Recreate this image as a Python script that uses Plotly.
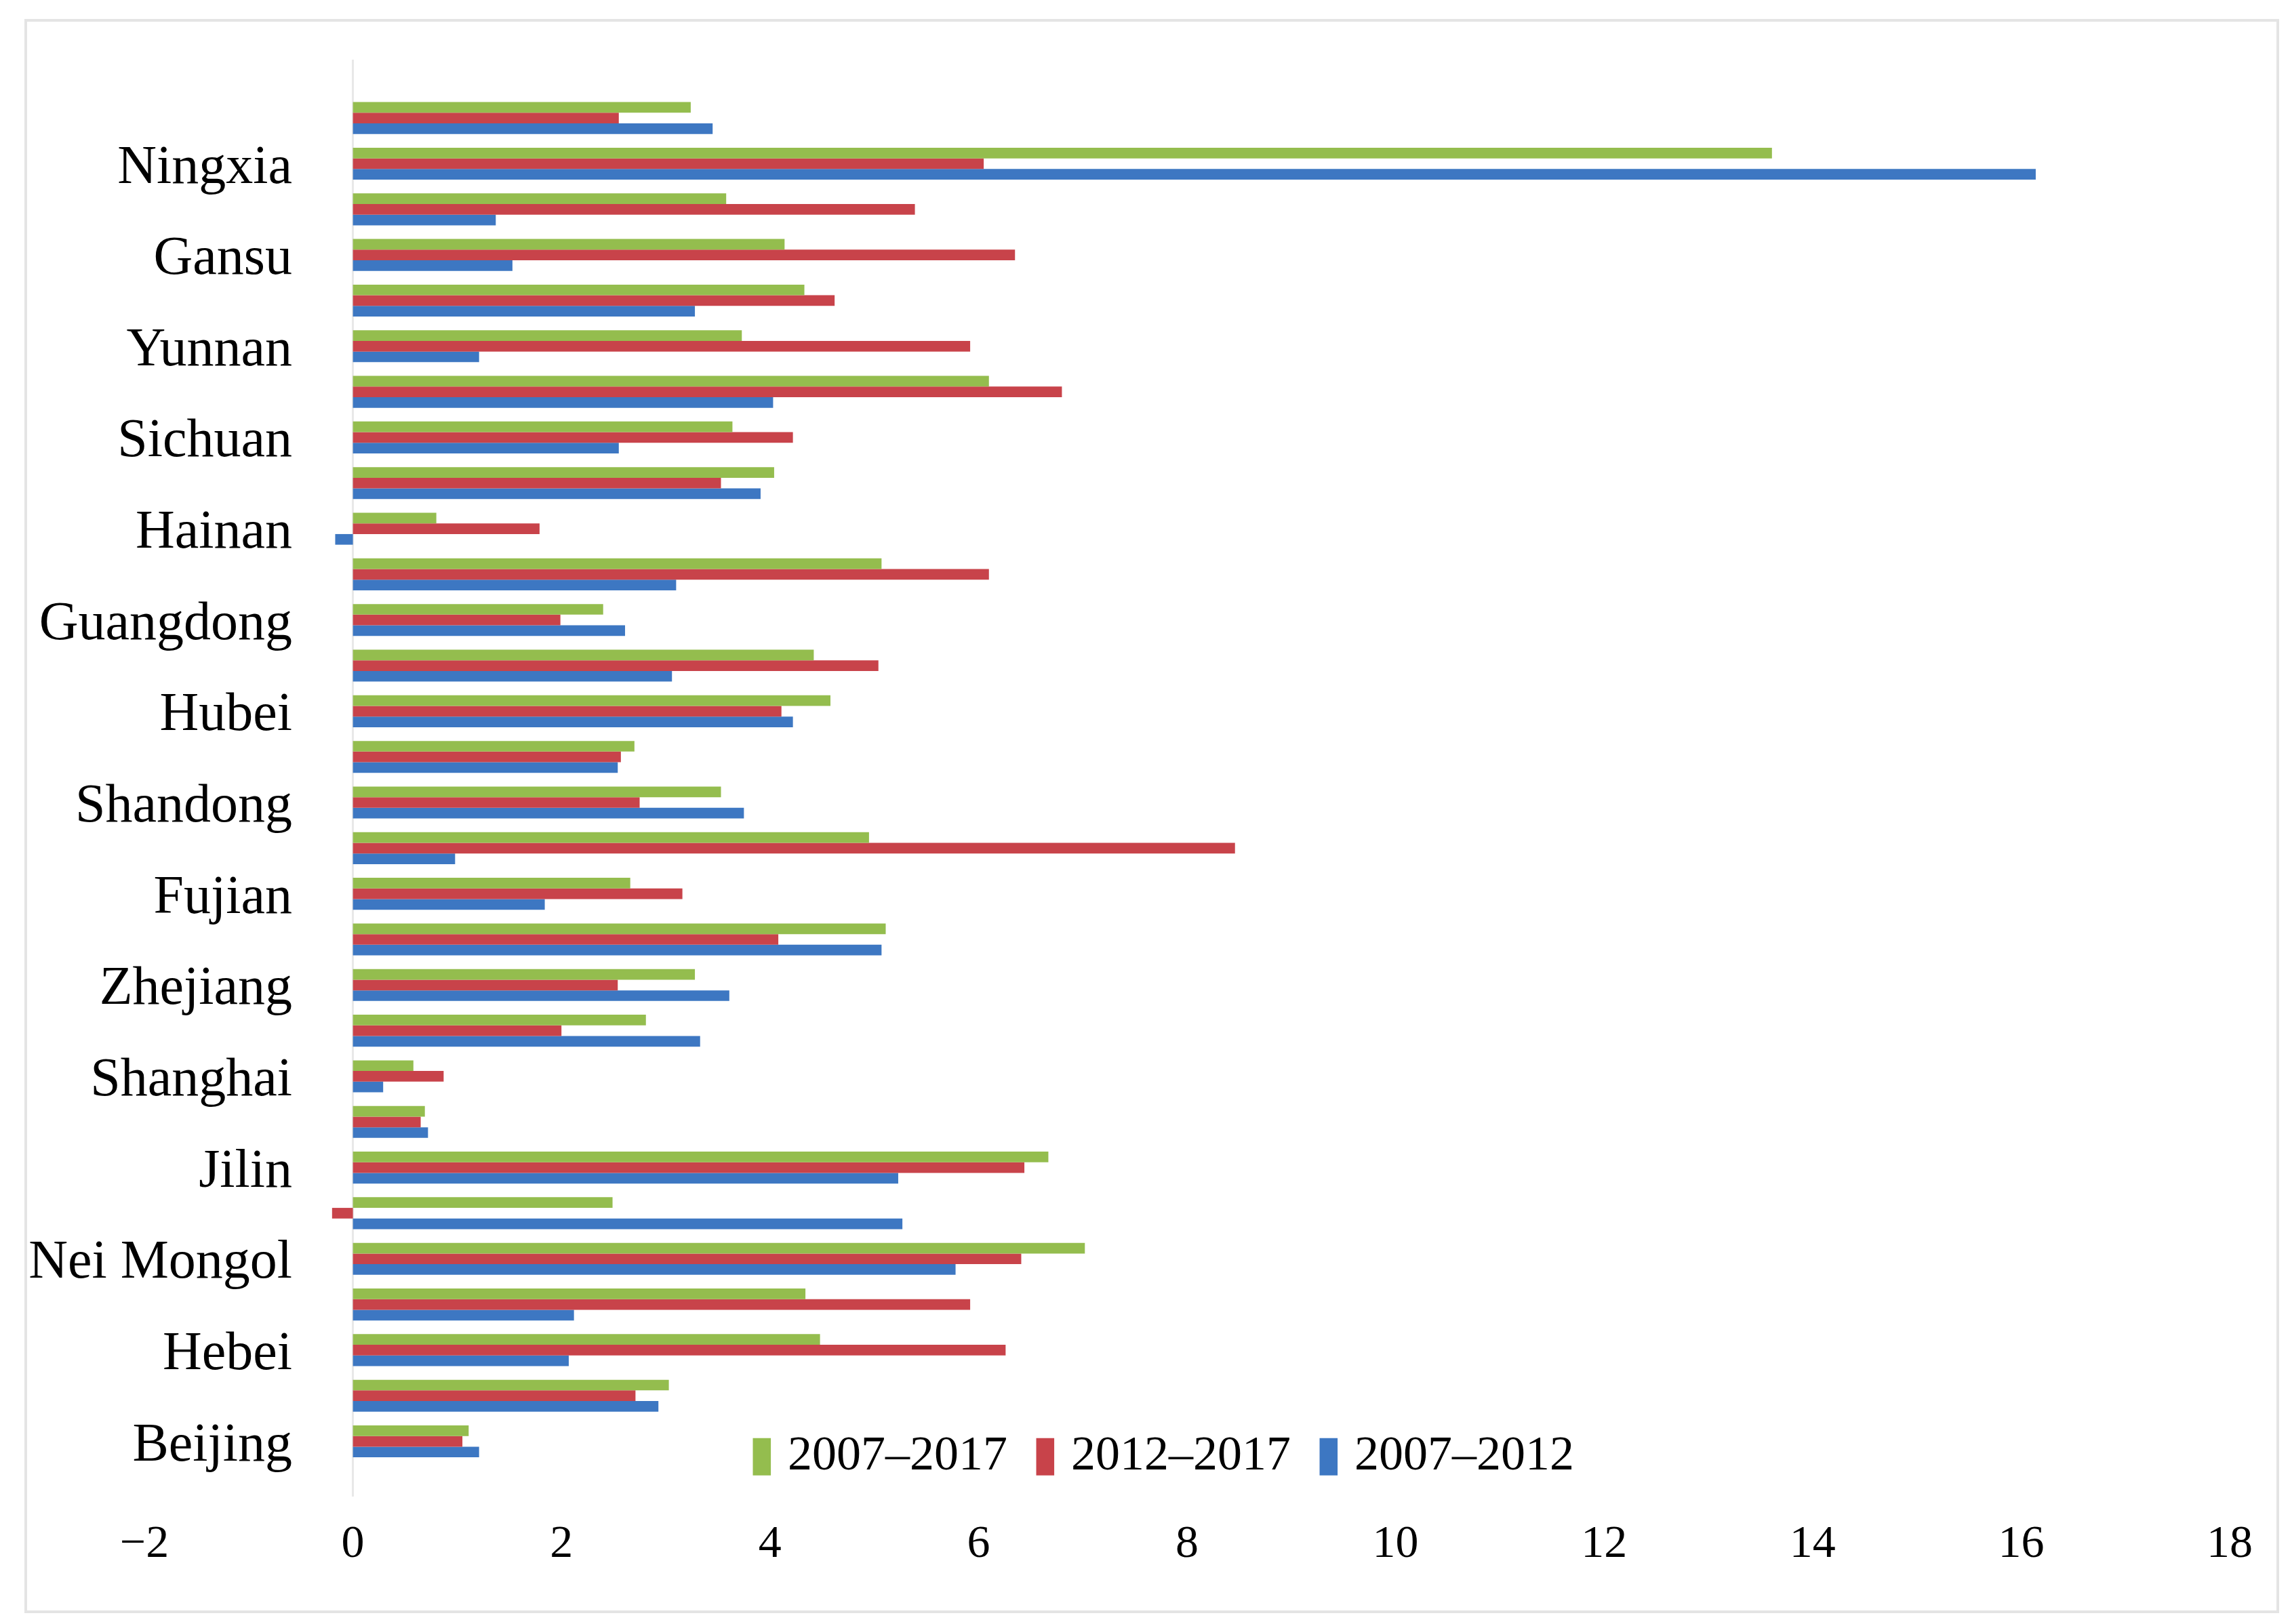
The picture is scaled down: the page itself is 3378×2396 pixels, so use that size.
import plotly.graph_objects as go

W, H = 3378, 2396

provinces = [
    "Beijing", "Tianjin", "Hebei", "Shanxi", "Nei Mongol", "Liaoning", "Jilin",
    "Heilongjiang", "Shanghai", "Jiangsu", "Zhejiang", "Anhui", "Fujian", "Jiangxi",
    "Shandong", "Henan", "Hubei", "Hunan", "Guangdong", "Guangxi", "Hainan",
    "Chongqing", "Sichuan", "Guizhou", "Yunnan", "Shaanxi", "Gansu", "Qinghai",
    "Ningxia", "Xinjiang",
]
# only every other province is labelled on the axis
labelled = provinces[::2]

g_2007_2017 = [1.11, 3.03, 4.48, 4.34, 7.02, 2.49, 6.67, 0.69, 0.58, 2.81,
               3.28, 5.11, 2.66, 4.95, 3.53, 2.70, 4.58, 4.42, 2.40, 5.07,
               0.80, 4.04, 3.64, 6.10, 3.73, 4.33, 4.14, 3.58, 13.61, 3.24]
g_2012_2017 = [1.05, 2.71, 6.26, 5.92, 6.41, -0.20, 6.44, 0.65, 0.87, 2.00,
               2.54, 4.08, 3.16, 8.46, 2.75, 2.57, 4.11, 5.04, 1.99, 6.10,
               1.79, 3.53, 4.22, 6.80, 5.92, 4.62, 6.35, 5.39, 6.05, 2.55]
g_2007_2012 = [1.21, 2.93, 2.07, 2.12, 5.78, 5.27, 5.23, 0.72, 0.29, 3.33,
               3.61, 5.07, 1.84, 0.98, 3.75, 2.54, 4.22, 3.06, 2.61, 3.10,
               -0.17, 3.91, 2.55, 4.03, 1.21, 3.28, 1.53, 1.37, 16.14, 3.45]

series_names = ["2007–2017", "2012–2017", "2007–2012"]
colors = ["#94BD4E", "#C8434A", "#3D77C2"]

x_ticks = list(range(-2, 19, 2))

# plot area in page pixels
L, R, T, B = 205, 3281, 80, 2200
pw, ph = R - L, B - T

def px(x):
    return (x - L) / pw

def py(y):
    return (B - y) / ph

fig = go.Figure()

# plotly stacks horizontal groups from the bottom, so blue goes in first
for name, vals, col in reversed(list(zip(series_names,
                                         [g_2007_2017, g_2012_2017, g_2007_2012],
                                         colors))):
    fig.add_trace(go.Bar(
        y=provinces, x=vals, name=name, orientation="h",
        marker=dict(color=col, line=dict(width=0)),
        showlegend=False,
    ))

# legend drawn as text so the colour keys keep the tall shape of the original
legend_txt = "  ".join(
    f'<span style="color:{c}">▮</span> {n}' for n, c in zip(series_names, colors)
)
fig.add_annotation(
    x=px(1705), y=py(2136), xref="paper", yref="paper",
    text=legend_txt, showarrow=False, xanchor="center", yanchor="middle",
    font=dict(family="Liberation Serif", size=72, color="black"),
)

# faint frame around the whole chart
fig.add_shape(
    type="rect", xref="paper", yref="paper",
    x0=px(30), x1=px(3352), y0=py(2370), y1=py(22),
    line=dict(color="#e4e4e4", width=4), fillcolor="rgba(0,0,0,0)", layer="below",
)

fig.update_layout(
    width=W, height=H,
    margin=dict(l=L, r=W - R, t=T, b=H - B),
    paper_bgcolor="white", plot_bgcolor="white",
    barmode="group", bargap=0.3, bargroupgap=0,
    font=dict(family="Liberation Serif", color="black"),
    xaxis=dict(
        range=[-2, 18], tickvals=x_ticks, ticktext=[str(v) if v >= 0 else f"−{-v}" for v in x_ticks],
        showgrid=False, showline=False, ticks="",
        zeroline=True, zerolinecolor="#e8e8e8", zerolinewidth=3,
        tickfont=dict(size=68), ticklabelstandoff=20,
    ),
    yaxis=dict(
        type="category", categoryorder="array", categoryarray=provinces,
        range=[-1.21, 30.28], tickvals=labelled, ticktext=labelled,
        showgrid=False, showline=False, ticks="", zeroline=False,
        anchor="free", position=px(513), ticklabelstandoff=90,
        tickfont=dict(size=80),
    ),
)

fig.write_html("out.html")
